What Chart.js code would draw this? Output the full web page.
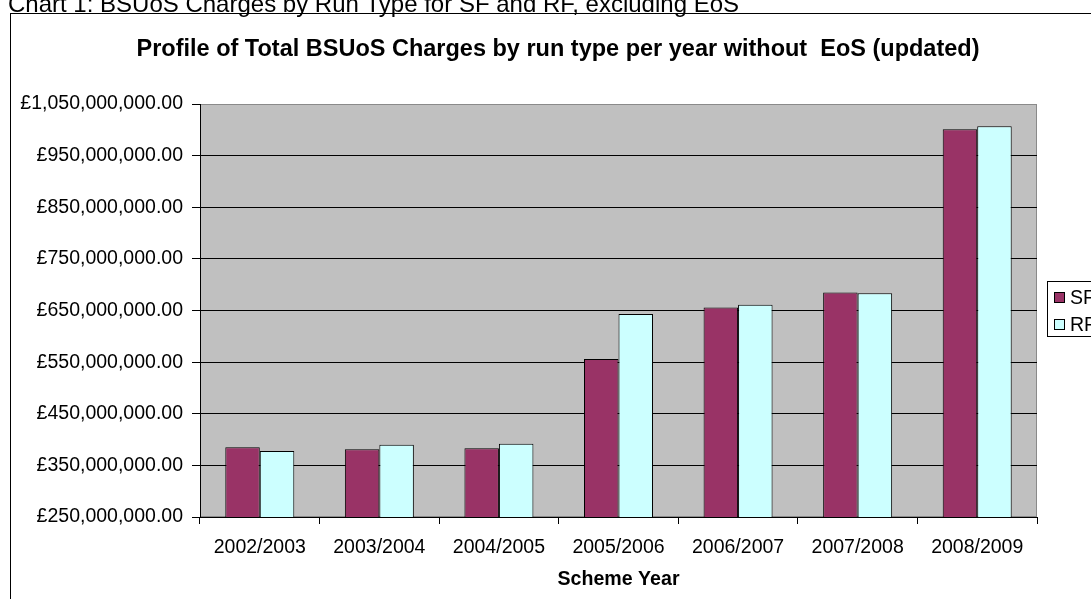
<!DOCTYPE html>
<html>
<head>
<meta charset="utf-8">
<script src="https://cdn.jsdelivr.net/npm/chart.js@4.4.1/dist/chart.umd.min.js"></script>
<style>
  html, body { margin: 0; padding: 0; background: #fff; overflow: hidden; }
  canvas { display: block; }
</style>
</head>
<body>
<canvas id="chart" width="1091" height="599"></canvas>
<script>
// Text
const caption = 'Chart 1: BSUoS Charges by Run Type for SF and RF, excluding EoS';
const chartTitle = 'Profile of Total BSUoS Charges by run type per year without  EoS (updated)';
const xAxisTitle = 'Scheme Year';

// Categories and series (total BSUoS charges, £)
const schemeYears = ['2002/2003', '2003/2004', '2004/2005', '2005/2006', '2006/2007', '2007/2008', '2008/2009'];
const seriesNames = ['SF', 'RF'];
const sfCharges = [385000000, 381000000, 383000000, 556000000, 656000000, 685000000, 1001000000];
const rfCharges = [378000000, 390000000, 392000000, 643000000, 661000000, 683500000, 1007000000];

// Value axis range
const axisMin = 250000000;
const axisMax = 1050000000;
const axisStep = 100000000;

const FONT = '"Liberation Sans", Arial, Helvetica, sans-serif';
Chart.defaults.font.family = FONT;
Chart.defaults.color = '#000';

function pounds(v) {
  const whole = Math.round(v).toString().replace(/\B(?=(\d{3})+(?!\d))/g, ',');
  return '\u00A3' + whole + '.00';
}

// Caption, outer frame, heading and grey plot background
const framePlugin = {
  id: 'frame',
  beforeDraw(chart) {
    const ctx = chart.ctx;
    const a = chart.chartArea;
    ctx.save();
    ctx.fillStyle = '#fff';
    ctx.fillRect(0, 0, chart.width, chart.height);

    ctx.fillStyle = '#000';
    ctx.font = '24px ' + FONT;
    ctx.textBaseline = 'alphabetic';
    ctx.textAlign = 'left';
    ctx.fillText(caption, 8, 12);

    ctx.strokeStyle = '#000';
    ctx.lineWidth = 1;
    ctx.strokeRect(10.5, 13.5, 1300, 800);

    ctx.font = 'bold 23.5px ' + FONT;
    ctx.textAlign = 'center';
    ctx.fillText(chartTitle, 558, 56);

    ctx.fillStyle = '#C0C0C0';
    ctx.fillRect(a.left, a.top, a.right - a.left, a.bottom - a.top);
    ctx.strokeStyle = '#8a8a8a';
    ctx.strokeRect(a.left + 0.5, a.top + 0.5, a.right - a.left - 1, a.bottom - a.top - 1);
    ctx.restore();
  }
};

// Boxed legend at the right-hand side
const boxLegendPlugin = {
  id: 'boxLegend',
  afterDraw(chart) {
    const ctx = chart.ctx;
    ctx.save();
    ctx.strokeStyle = '#000';
    ctx.lineWidth = 1;
    ctx.fillStyle = '#fff';
    ctx.fillRect(1047.5, 281.5, 80, 55);
    ctx.strokeRect(1047.5, 281.5, 80, 55);
    ctx.font = '19.5px ' + FONT;
    ctx.textBaseline = 'middle';
    ctx.textAlign = 'left';
    chart.data.datasets.forEach((ds, i) => {
      const cy = 298 + i * 27;
      ctx.fillStyle = ds.backgroundColor;
      ctx.fillRect(1054.5, cy - 5.5, 10, 10);
      ctx.strokeRect(1054.5, cy - 5.5, 10, 10);
      ctx.fillStyle = '#000';
      ctx.fillText(ds.label, 1070, cy + 1);
    });
    ctx.restore();
  }
};

new Chart(document.getElementById('chart'), {
  type: 'bar',
  data: {
    labels: schemeYears,
    datasets: [
      {
        label: seriesNames[0],
        data: sfCharges,
        backgroundColor: '#993366',
        borderColor: '#000',
        borderWidth: 1,
        categoryPercentage: 0.577,
        barPercentage: 1.0
      },
      {
        label: seriesNames[1],
        data: rfCharges,
        backgroundColor: '#CCFFFF',
        borderColor: '#000',
        borderWidth: 1,
        categoryPercentage: 0.577,
        barPercentage: 1.0
      }
    ]
  },
  options: {
    responsive: false,
    animation: false,
    devicePixelRatio: 1,
    layout: { padding: { left: 10, top: 104, right: 54, bottom: 0 } },
    plugins: {
      legend: { display: false },
      title: { display: false },
      tooltip: { enabled: false }
    },
    scales: {
      x: {
        offset: true,
        grid: { display: true, drawOnChartArea: false, offset: true, color: '#000', tickLength: 7, lineWidth: 1 },
        border: { color: '#000', width: 1 },
        ticks: { color: '#000', font: { size: 19.5 }, padding: 12, maxRotation: 0, autoSkip: false },
        title: {
          display: true,
          text: xAxisTitle,
          color: '#000',
          font: { size: 19.6, weight: 'bold' },
          padding: { top: 0, bottom: 8 }
        },
        afterFit(scale) { scale.height = 82; }
      },
      y: {
        min: axisMin,
        max: axisMax,
        grid: {
          color: (c) => (c.tick && c.tick.value === axisMax ? '#8a8a8a' : '#000'),
          tickColor: '#000',
          tickLength: 8,
          lineWidth: 1
        },
        border: { color: '#000', width: 1 },
        ticks: { stepSize: axisStep, callback: (v) => pounds(v), color: '#000', font: { size: 19.5 }, padding: 9 },
        afterFit(scale) { scale.width = 190; }
      }
    }
  },
  plugins: [framePlugin, boxLegendPlugin]
});
</script>
</body>
</html>
